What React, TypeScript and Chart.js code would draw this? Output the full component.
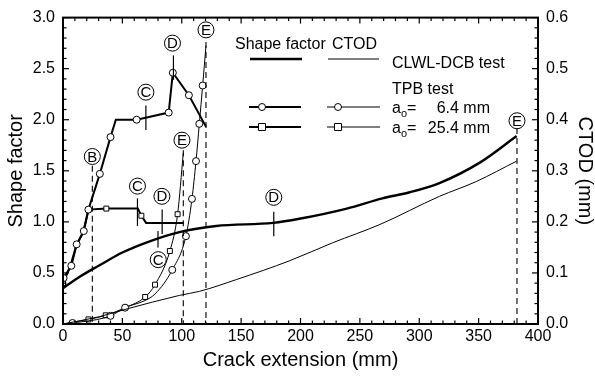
import React, { useEffect, useRef } from "react";
import { Chart, registerables } from "chart.js";
Chart.register(...registerables);

const FONT = '"Liberation Sans", Arial, Helvetica, sans-serif';

// ---- CLWL-DCB test ----
const dcbShapeX = [0, 15, 30, 50, 73, 98, 129, 177, 199, 239, 269, 292, 317, 351, 382];
const dcbShapeY = [0.35, 0.47, 0.57, 0.7, 0.81, 0.9, 0.96, 0.99, 1.03, 1.13, 1.23, 1.29, 1.38, 1.58, 1.84];
const dcbCtodX = [0, 30, 53, 98, 115, 146, 191, 227, 267, 317, 348, 382];
const dcbCtodY = [0, 0.014, 0.029, 0.056, 0.064, 0.087, 0.124, 0.159, 0.195, 0.25, 0.279, 0.319];

// ---- TPB test, a0 = 6.4 mm ----
const tpb64ShapeX = [0.5, 7, 11.5, 17.5, 21.4, 31, 40, 44.5, 62, 89, 92.5, 106, 120.5];
const tpb64ShapeY = [0.45, 0.57, 0.78, 0.91, 1.12, 1.47, 1.83, 2.0, 2.0, 2.07, 2.46, 2.24, 1.93];
const tpb64ShapeMark = [1, 1, 1, 1, 1, 1, 1, 0, 1, 1, 1, 1, 0];
const tpb64CtodX = [0, 8, 40, 52.3, 69, 77.6, 92, 103.5, 108.6, 112, 114.8, 117.6, 120.4];
const tpb64CtodY = [0, 0.002, 0.016, 0.032, 0.046, 0.059, 0.106, 0.172, 0.245, 0.319, 0.392, 0.467, 0.545];
const tpb64CtodMark = [0, 1, 1, 1, 0, 0, 1, 1, 1, 1, 1, 1, 0];

// ---- TPB test, a0 = 25.4 mm ----
const tpb254ShapeX = [0, 6, 11, 17, 21.5, 36.5, 63, 66, 70, 101.5];
const tpb254ShapeY = [0.4, 0.56, 0.76, 0.9, 1.12, 1.13, 1.13, 1.06, 0.99, 0.99];
const tpb254ShapeMark = [1, 0, 0, 0, 0, 1, 0, 1, 0, 0];
const tpb254CtodX = [0, 21.4, 36, 52.3, 69.2, 77.5, 90, 96.5, 101.3];
const tpb254CtodY = [0, 0.009, 0.017, 0.032, 0.053, 0.077, 0.143, 0.215, 0.335];
const tpb254CtodMark = [0, 1, 1, 1, 1, 1, 1, 1, 0];

// ---- axes ----
const X_TICKS = [0, 50, 100, 150, 200, 250, 300, 350, 400];
const SHAPE_TICKS = [0, 0.5, 1.0, 1.5, 2.0, 2.5, 3.0];
const CTOD_TICKS = [0, 0.1, 0.2, 0.3, 0.4, 0.5, 0.6];

// ---- event markers (B, C, D, E) ----
const markLetters = ["E", "D", "C", "B", "C", "D", "E", "C", "D", "E"];
const markX = [120.4, 92.2, 69.8, 24.7, 62.7, 83.3, 100.2, 80.2, 177.5, 382.3];
const markY = [2.88, 2.75, 2.27, 1.64, 1.35, 1.25, 1.8, 0.63, 1.24, 1.99];
// short solid ticks: x, from, to (shape factor units)
const stubX = [69.8, 93, 62.7, 83.5, 80, 177.5];
const stubFrom = [1.9, 2.39, 0.96, 0.88, 0.75, 0.86];
const stubTo = [2.14, 2.63, 1.23, 1.12, 0.91, 1.1];
// dashed verticals: x, top (shape factor units) down to 0
const dashX = [24.7, 101.3, 120.4, 382.3];
const dashTop = [1.55, 1.7, 2.76, 1.92];

const pts = (xs: number[], ys: number[]) => xs.map((x, i) => ({ x, y: ys[i] }));

const annotationPlugin = {
  id: "events",
  afterDatasetsDraw(chart: any) {
    const { ctx, scales } = chart;
    const sx = scales.x, sy = scales.y;
    ctx.save();
    ctx.strokeStyle = "#000";
    ctx.lineWidth = 1.1;
    ctx.setLineDash([6, 4]);
    dashX.forEach((v, i) => {
      const px = sx.getPixelForValue(v);
      ctx.beginPath();
      ctx.moveTo(px, sy.getPixelForValue(dashTop[i]));
      ctx.lineTo(px, sy.getPixelForValue(0));
      ctx.stroke();
    });
    ctx.setLineDash([]);
    ctx.lineWidth = 1.2;
    stubX.forEach((v, i) => {
      const px = sx.getPixelForValue(v);
      ctx.beginPath();
      ctx.moveTo(px, sy.getPixelForValue(stubFrom[i]));
      ctx.lineTo(px, sy.getPixelForValue(stubTo[i]));
      ctx.stroke();
    });
    ctx.font = `15px ${FONT}`;
    ctx.textAlign = "center";
    ctx.textBaseline = "middle";
    markLetters.forEach((t, i) => {
      const px = sx.getPixelForValue(markX[i]);
      const py = sy.getPixelForValue(markY[i]);
      ctx.beginPath();
      ctx.arc(px, py, 8, 0, Math.PI * 2);
      ctx.fillStyle = "#fff";
      ctx.fill();
      ctx.lineWidth = 1;
      ctx.stroke();
      ctx.fillStyle = "#000";
      ctx.fillText(t, px, py + 1);
    });
    ctx.restore();
  },
};

function marker(ctx: CanvasRenderingContext2D, kind: string, x: number, y: number) {
  ctx.beginPath();
  if (kind === "circle") ctx.arc(x, y, 3.5, 0, Math.PI * 2);
  else ctx.rect(x - 3.5, y - 3.5, 7, 7);
  ctx.fillStyle = "#fff";
  ctx.fill();
  ctx.lineWidth = 1;
  ctx.strokeStyle = "#000";
  ctx.stroke();
}

const framePlugin = {
  id: "frameTicks",
  afterDraw(chart: any) {
    const { ctx, chartArea: a, scales } = chart;
    const sx = scales.x, sy = scales.y, sy2 = scales.y2;
    ctx.save();
    ctx.strokeStyle = "#000";
    ctx.lineWidth = 1.2;
    const seg = (x1: number, y1: number, x2: number, y2: number) => {
      ctx.beginPath();
      ctx.moveTo(x1, y1);
      ctx.lineTo(x2, y2);
      ctx.stroke();
    };
    for (let k = 0; k <= 40; k++) {
      const px = sx.getPixelForValue(k * 10);
      const len = k % 5 === 0 ? 6 : 3.5;
      seg(px, a.bottom, px, a.bottom - len);
      seg(px, a.top, px, a.top + len);
    }
    for (let k = 0; k <= 30; k++) {
      const py = sy.getPixelForValue(k * 0.1);
      seg(a.left, py, a.left + (k % 5 === 0 ? 6 : 3.5), py);
    }
    for (let k = 0; k <= 30; k++) {
      const py = sy2.getPixelForValue(k * 0.02);
      seg(a.right, py, a.right - (k % 5 === 0 ? 6 : 3.5), py);
    }
    ctx.lineWidth = 2;
    ctx.strokeRect(a.left, a.top, a.right - a.left, a.bottom - a.top);

    // legend
    ctx.fillStyle = "#000";
    ctx.textAlign = "left";
    ctx.textBaseline = "alphabetic";
    ctx.font = `16px ${FONT}`;
    ctx.fillText("Shape factor", 235, 49);
    ctx.fillText("CTOD", 332, 49);
    ctx.fillText("CLWL-DCB test", 392, 68);
    ctx.fillText("TPB test", 392, 94);
    const rows = [
      { y: 107, base: 113, val: "6.4 mm", kind: "circle" },
      { y: 127, base: 133, val: "25.4 mm", kind: "square" },
    ];
    ctx.lineWidth = 2.4;
    seg(250, 59, 302, 59);
    ctx.lineWidth = 1;
    seg(328, 59, 379, 59);
    rows.forEach((r) => {
      ctx.lineWidth = 2;
      seg(249, r.y, 301, r.y);
      ctx.lineWidth = 1;
      seg(327, r.y, 380, r.y);
      marker(ctx, r.kind, 262, r.y);
      marker(ctx, r.kind, 338, r.y);
      ctx.fillStyle = "#000";
      ctx.font = `16px ${FONT}`;
      ctx.textAlign = "left";
      ctx.fillText("a", 392, r.base);
      let w = ctx.measureText("a").width;
      ctx.font = `11px ${FONT}`;
      ctx.fillText("o", 392 + w, r.base + 4);
      w += ctx.measureText("o").width;
      ctx.font = `16px ${FONT}`;
      ctx.fillText("=", 392 + w, r.base);
      ctx.textAlign = "right";
      ctx.fillText(r.val, 490, r.base);
    });
    ctx.restore();
  },
};

function lineDs(xs: number[], ys: number[], opts: any) {
  return {
    data: pts(xs, ys),
    borderColor: "#000",
    backgroundColor: "#fff",
    pointBorderColor: "#000",
    pointBackgroundColor: "#fff",
    pointBorderWidth: 1,
    fill: false,
    ...opts,
  };
}

export default function App() {
  const ref = useRef<HTMLCanvasElement | null>(null);
  useEffect(() => {
    if (!ref.current) return;
    const markR = (arr: number[]) => (c: any) => (arr[c.dataIndex] ? 3.5 : 0);
    const tickFont = { family: FONT, size: 16 };
    const titleFont = { family: FONT, size: 20, lineHeight: 1.2 };
    const chart = new Chart(ref.current, {
      type: "line",
      data: {
        datasets: [
          lineDs(dcbShapeX, dcbShapeY, { yAxisID: "y", borderWidth: 2.4, pointRadius: 0, cubicInterpolationMode: "monotone" }),
          lineDs(dcbCtodX, dcbCtodY, { yAxisID: "y2", borderWidth: 1, pointRadius: 0, cubicInterpolationMode: "monotone" }),
          lineDs(tpb64ShapeX, tpb64ShapeY, { yAxisID: "y", borderWidth: 2, tension: 0, pointRadius: markR(tpb64ShapeMark), pointStyle: "circle" }),
          lineDs(tpb254ShapeX, tpb254ShapeY, { yAxisID: "y", borderWidth: 2, tension: 0, pointRadius: markR(tpb254ShapeMark), pointStyle: "rect" }),
          lineDs(tpb64CtodX, tpb64CtodY, { yAxisID: "y2", borderWidth: 1, cubicInterpolationMode: "monotone", pointRadius: markR(tpb64CtodMark), pointStyle: "circle" }),
          lineDs(tpb254CtodX, tpb254CtodY, { yAxisID: "y2", borderWidth: 1, cubicInterpolationMode: "monotone", pointRadius: markR(tpb254CtodMark), pointStyle: "rect" }),
        ] as any,
      },
      options: {
        responsive: false,
        animation: false,
        devicePixelRatio: 1,
        layout: { padding: { top: 14, left: 0, right: 0, bottom: 0 } },
        plugins: { legend: { display: false }, tooltip: { enabled: false } },
        scales: {
          x: {
            type: "linear",
            position: "bottom",
            min: 0,
            max: 400,
            afterFit: (s: any) => { s.height = 52; },
            afterBuildTicks: (s: any) => { s.ticks = X_TICKS.map((v) => ({ value: v })); },
            grid: { display: false, drawTicks: false },
            border: { display: false },
            ticks: { font: tickFont, color: "#000", padding: 3, maxRotation: 0, autoSkip: false },
            title: { display: true, text: "Crack extension (mm)", font: titleFont, color: "#000", padding: { top: 0, bottom: 4 } },
          },
          y: {
            type: "linear",
            position: "left",
            min: 0,
            max: 3,
            afterFit: (s: any) => { s.width = 63; },
            afterBuildTicks: (s: any) => { s.ticks = SHAPE_TICKS.map((v) => ({ value: v })); },
            grid: { display: false, drawTicks: false },
            border: { display: false },
            ticks: { font: tickFont, color: "#000", padding: 8, callback: (v: any) => Number(v).toFixed(1) },
            title: { display: true, text: "Shape factor", font: titleFont, color: "#000", padding: { top: 4, bottom: 0 } },
          },
          y2: {
            type: "linear",
            position: "right",
            min: 0,
            max: 0.6,
            afterFit: (s: any) => { s.width = 57; },
            afterBuildTicks: (s: any) => { s.ticks = CTOD_TICKS.map((v) => ({ value: v })); },
            grid: { display: false, drawTicks: false },
            border: { display: false },
            ticks: { font: tickFont, color: "#000", padding: 8, callback: (v: any) => Number(v).toFixed(1) },
            title: { display: true, text: "CTOD (mm)", font: { family: FONT, size: 20, lineHeight: 1.0 }, color: "#000", padding: 0 },
          },
        },
      } as any,
      plugins: [annotationPlugin, framePlugin],
    });
    return () => chart.destroy();
  }, []);
  return (
    <div style={{ position: "absolute", left: 0, top: 0, width: 595, height: 376, background: "#fff" }}>
      <canvas ref={ref} width={595} height={376} style={{ display: "block" }} />
    </div>
  );
}
